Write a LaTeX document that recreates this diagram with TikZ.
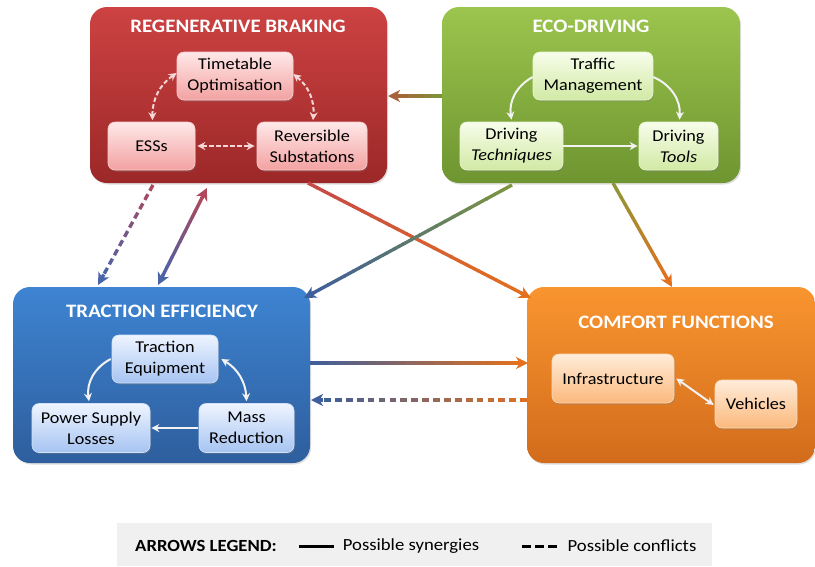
\documentclass[tikz,border=0pt]{standalone}
\usepackage{fontspec}
\setmainfont{Carlito}[FakeStretch=1.1]
\usetikzlibrary{arrows.meta,calc,shadows}

\definecolor{RBtop}{HTML}{CD4242}\definecolor{RBbot}{HTML}{9C2828}
\definecolor{EDtop}{HTML}{9BC54E}\definecolor{EDbot}{HTML}{6E9530}
\definecolor{TEtop}{HTML}{3E84D2}\definecolor{TEbot}{HTML}{2E5E9D}
\definecolor{CFtop}{HTML}{F9952F}\definecolor{CFbot}{HTML}{D26C1C}
\definecolor{RItop}{HTML}{FFE8E8}\definecolor{RIbot}{HTML}{F3A1A1}
\definecolor{GItop}{HTML}{F7FDEB}\definecolor{GIbot}{HTML}{D1E9A4}
\definecolor{BItop}{HTML}{EEF4FF}\definecolor{BIbot}{HTML}{A6C4F2}
\definecolor{OItop}{HTML}{FFECDA}\definecolor{OIbot}{HTML}{FBB97C}
\definecolor{aRed}{HTML}{C64848}\definecolor{aBrown}{HTML}{A8623A}
\definecolor{aGreen}{HTML}{7E963C}\definecolor{aOlive}{HTML}{8C9838}
\definecolor{aBlue}{HTML}{3E5E9C}\definecolor{aOrange}{HTML}{E2701E}
\definecolor{aRose}{HTML}{B0475A}\definecolor{aBlueB}{HTML}{4A64A8}
\definecolor{legbg}{HTML}{F0F0F0}
\definecolor{dashpink}{HTML}{F4D6D6}
\definecolor{arrwhite}{HTML}{F2F2F2}

\tikzset{
  bigbox/.style={rounded corners=17pt, draw=none, inner sep=0pt,
    drop shadow={opacity=0.25,shadow xshift=1.2pt,shadow yshift=-1.5pt}},
  redbig/.style={bigbox, top color=RBtop, bottom color=RBbot},
  greenbig/.style={bigbox, top color=EDtop, bottom color=EDbot},
  bluebig/.style={bigbox, top color=TEtop, bottom color=TEbot},
  orangebig/.style={bigbox, top color=CFtop, bottom color=CFbot},
  boxtitle/.style={font=\bfseries\fontsize{19}{22}\selectfont, text=white},
  inbox/.style={rounded corners=7pt, align=center, inner sep=0pt, text=black,
    font=\fontsize{16.5}{21}\selectfont, line width=0.6pt,
    drop shadow={opacity=0.35,shadow xshift=1pt,shadow yshift=-1.5pt}},
  redin/.style={inbox, top color=RItop, bottom color=RIbot, draw=RItop!60!RIbot},
  greenin/.style={inbox, top color=GItop, bottom color=GIbot, draw=GItop!60!GIbot},
  bluein/.style={inbox, top color=BItop, bottom color=BIbot, draw=BItop!60!BIbot},
  orangein/.style={inbox, top color=OItop, bottom color=OIbot, draw=OItop!60!OIbot},
  inarrow/.style={draw=#1, line width=2pt, -{Stealth[length=8pt,width=8pt]}},
  inboth/.style={draw=#1, line width=2pt, {Stealth[length=8pt,width=8pt]}-{Stealth[length=8pt,width=8pt]}},
  indash/.style={dash pattern=on 4.5pt off 2.5pt},
  connline/.style={line width=3.4pt, line cap=butt},
  conntip/.style={line width=3.4pt, draw=#1, -{Stealth[length=12pt,width=12pt,inset=3.5pt]}},
  legtext/.style={font=\fontsize{17}{20}\selectfont, text=black},
}

% gradient line between two named coordinates
\newcommand\gradseg[6]{%
  \foreach \gi in {1,...,#5}{%
    \pgfmathsetmacro\gta{(\gi-1)/#5}%
    \pgfmathsetmacro\gtb{min(1,(\gi-1+#6)/#5)}%
    \pgfmathtruncatemacro\gpc{100-100*(\gi-0.5)/#5}%
    \draw[connline, draw={#3!\gpc!#4}] ($(#1)!\gta!(#2)$) -- ($(#1)!\gtb!(#2)$);
  }}

\begin{document}
\begin{tikzpicture}[x=1pt,y=-1pt]
\useasboundingbox (0,0) rectangle (815,566);

% ---------- big boxes ----------
\node[redbig, minimum width=297pt, minimum height=176pt] (RB) at (238.5,95) {};
\node[greenbig, minimum width=298pt, minimum height=176pt] (ED) at (591,95) {};
\node[bluebig, minimum width=297pt, minimum height=176pt] (TE) at (161.5,375) {};
\node[orangebig, minimum width=288pt, minimum height=176pt] (CF) at (671,375) {};

\node[boxtitle] (RBt) at (238,26) {REGENERATIVE BRAKING};
\node[boxtitle] (EDt) at (591,26) {ECO-DRIVING};
\node[boxtitle] (TEt) at (162,311) {TRACTION EFFICIENCY};
\node[boxtitle] (CFt) at (676,322) {COMFORT FUNCTIONS};

% ---------- inner nodes ----------
\node[redin, minimum width=116pt, minimum height=48pt] (TO) at (235,76) {Timetable\\Optimisation};
\node[redin, minimum width=87pt, minimum height=48pt] (ESS) at (151.5,146) {ESSs};
\node[redin, minimum width=110pt, minimum height=48pt] (RS) at (312,146) {Reversible\\Substations};

\node[greenin, minimum width=120pt, minimum height=48pt] (TM) at (593,76) {Traffic\\Management};
\node[greenin, minimum width=103pt, minimum height=48pt] (DT) at (511.5,146) {Driving\\\textit{Techniques}};
\node[greenin, minimum width=79pt, minimum height=48pt] (DTo) at (678.5,146) {Driving\\\textit{Tools}};

\node[bluein, minimum width=106pt, minimum height=48pt] (TrE) at (165,359) {Traction\\Equipment};
\node[bluein, minimum width=118pt, minimum height=49pt] (PSL) at (91,428) {Power Supply\\Losses};
\node[bluein, minimum width=95pt, minimum height=49pt] (MR) at (246.5,428) {Mass\\Reduction};

\node[orangein, minimum width=122pt, minimum height=49pt] (INF) at (613,378.5) {Infrastructure};
\node[orangein, minimum width=82pt, minimum height=48pt] (VEH) at (756,404) {Vehicles};

% ---------- inner arrows ----------
\draw[inboth=dashpink, indash] ($(TO.west)+(0,-3)$) to[bend right=28] ($(ESS.north)+(1,-1.5)$);
\draw[inboth=dashpink, indash] ($(TO.east)+(0,-2)$) to[bend left=28] ($(RS.north)+(1,-1.5)$);
\draw[inboth=dashpink, indash] ($(ESS.east)+(2,0)$) -- ($(RS.west)+(-2,0)$);

\draw[inarrow=arrwhite] ($(TM.west)+(0,1)$) to[bend right=35] ($(DT.north)+(0,-2)$);
\draw[inarrow=arrwhite] ($(TM.east)+(0,1)$) to[bend left=35] ($(DTo.north)+(1,-2)$);
\draw[inarrow=arrwhite] (DT.east) -- ($(DTo.west)+(-1,0)$);

\draw[inarrow=arrwhite] ($(TrE.west)+(-1,0)$) to[bend right=35] ($(PSL.north)+(-2,-2)$);
\draw[inboth=arrwhite] ($(TrE.east)+(3,0)$) to[bend left=28] ($(MR.north)+(0,-2)$);
\draw[inarrow=arrwhite] ($(MR.west)+(-1,0)$) -- ($(PSL.east)+(1,0)$);

\draw[inboth=arrwhite] ($(INF.east)+(2,0)$) -- ($(VEH.west)+(-1,1)$);

% ---------- outer connectors ----------
% A: eco-driving -> regenerative braking
\coordinate (As) at (442,96); \coordinate (Ae) at (388,96);
\coordinate (Ae2) at ($(Ae)!9pt!(As)$);
\gradseg{As}{Ae2}{aGreen}{aBrown}{8}{1.1}
\draw[conntip=aBrown] ($(Ae)!12pt!(As)$) -- (Ae);

% B: dashed regen -> traction
\coordinate (Bs) at (153,185); \coordinate (Be) at (98,285);
\coordinate (Be2) at ($(Be)!9pt!(Bs)$);
\gradseg{Bs}{Be2}{aRose}{aBlueB}{10}{0.62}
\draw[conntip=aBlueB] ($(Be)!12pt!(Bs)$) -- (Be);

% C: double regen <-> traction
\coordinate (Cs) at (207,188); \coordinate (Ce) at (158,285);
\coordinate (Cs2) at ($(Cs)!9pt!(Ce)$); \coordinate (Ce2) at ($(Ce)!9pt!(Cs)$);
\gradseg{Cs2}{Ce2}{aRose}{aBlueB}{16}{1.1}
\draw[conntip=aRose] ($(Cs)!12pt!(Ce)$) -- (Cs);
\draw[conntip=aBlueB] ($(Ce)!12pt!(Cs)$) -- (Ce);

% D: regen -> comfort
\coordinate (Ds) at (308,183); \coordinate (De) at (531,298);
\coordinate (De2) at ($(De)!9pt!(Ds)$);
\gradseg{Ds}{De2}{aRed}{aOrange}{24}{1.1}
\draw[conntip=aOrange] ($(De)!12pt!(Ds)$) -- (De);

% E: eco -> traction
\coordinate (Es) at (512,185); \coordinate (Ee) at (304,298);
\coordinate (Ee2) at ($(Ee)!9pt!(Es)$);
\gradseg{Es}{Ee2}{aGreen}{aBlue}{24}{1.1}
\draw[conntip=aBlue] ($(Ee)!12pt!(Es)$) -- (Ee);

% F: eco -> comfort
\coordinate (Fs) at (613,183); \coordinate (Fe) at (672,287);
\coordinate (Fe2) at ($(Fe)!9pt!(Fs)$);
\gradseg{Fs}{Fe2}{aOlive}{aOrange}{14}{1.1}
\draw[conntip=aOrange] ($(Fe)!12pt!(Fs)$) -- (Fe);

% G: traction -> comfort
\coordinate (Gs) at (310,363); \coordinate (Ge) at (528,363);
\coordinate (Ge2) at ($(Ge)!9pt!(Gs)$);
\gradseg{Gs}{Ge2}{aBlue}{aOrange}{22}{1.1}
\draw[conntip=aOrange] ($(Ge)!12pt!(Gs)$) -- (Ge);

% H: dashed comfort -> traction
\coordinate (Hs) at (527,400); \coordinate (He) at (311,400);
\coordinate (He2) at ($(He)!9pt!(Hs)$);
\gradseg{Hs}{He2}{aOrange}{aBlue}{19}{0.62}
\draw[conntip=aBlue] ($(He)!12pt!(Hs)$) -- (He);

% ---------- legend ----------
\node[fill=legbg, minimum width=595pt, minimum height=43pt, inner sep=0pt] (LEG) at (414,544.5) {};
\node[legtext, font=\bfseries\fontsize{17}{20}\selectfont] (LT) at (206,546) {ARROWS LEGEND:};
\coordinate (L1a) at (299,546); \coordinate (L1b) at (334,546);
\draw[line width=3pt, black] (L1a) -- (L1b);
\node[legtext] (LS) at (411,546) {Possible synergies};
\coordinate (L2a) at (522,546); \coordinate (L2b) at (557,546);
\draw[line width=3pt, black, dash pattern=on 9pt off 4pt] (L2a) -- (L2b);
\node[legtext] (LC) at (632,546) {Possible conflicts};
\end{tikzpicture}
\end{document}
